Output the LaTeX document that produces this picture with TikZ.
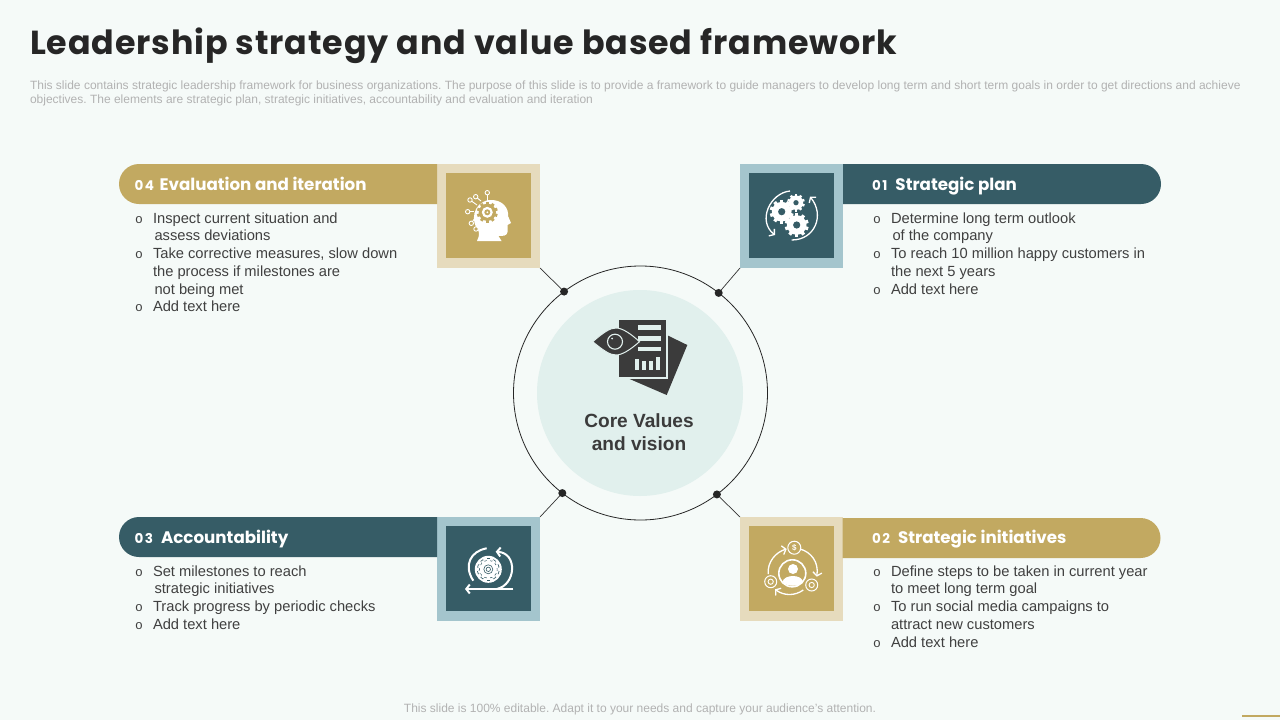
\documentclass[tikz,border=0pt]{standalone}
\usepackage{xcolor}
\usepackage{fontspec}
\setmainfont{Liberation Sans}
\newfontfamily\headfont{Poppins}
\newfontfamily\titlefont{Poppins}[LetterSpace=2.7]
\newfontfamily\markfont{Liberation Mono}
\usetikzlibrary{shapes.misc,arrows.meta}
\definecolor{pagebg}{HTML}{F5FAF8}
\definecolor{tanbar}{HTML}{C2A961}
\definecolor{tanpale}{HTML}{E6DBBD}
\definecolor{tealbar}{HTML}{365C66}
\definecolor{tealpale}{HTML}{A4C5CD}
\definecolor{discfill}{HTML}{E1F0ED}
\definecolor{inkdark}{HTML}{3B3B3B}
\definecolor{bodyink}{HTML}{404040}
\definecolor{noteink}{HTML}{B2B2B2}
\newcommand{\bul}{\strut\llap{{\markfont\fontsize{13}{13}\selectfont o}\hspace{10pt}}}
\newcommand{\numlabel}[2]{{\fontsize{13.5}{20}\selectfont #1\hspace{1.6pt}#2}\hspace{8pt}}
\newcommand{\cogwheel}[5]{%
    \foreach \a in {0,36,...,324} {
        \fill[#4, rotate around={\a:(#1,#2)}] (#1-#3*.14,#2-#3) rectangle (#1+#3*.14,#2-#3*.6);
    }
    \fill[#4] (#1,#2) circle (#3*.82);
    \fill[#5] (#1,#2) circle (#3*.3);
}
\begin{document}
\begin{tikzpicture}[x=1pt,y=-1pt, every node/.style={inner sep=0pt, outer sep=0pt},%
        headbar/.style={rounded rectangle, minimum width=318pt, minimum height=40pt},%
        headtext/.style={anchor=base west, text=white, font=\headfont\fontsize{16.7}{20}\selectfont\bfseries},%
        bodylist/.style={anchor=north west, align=left, text=bodyink, font=\fontsize{14.7}{17.7}\selectfont},%
        outerbox/.style={minimum width=103pt, minimum height=104pt},%
        innerbox/.style={minimum width=85pt, minimum height=85pt},%
        joint/.style={circle, fill=black!85, minimum size=8pt},%
        link/.style={draw=black!80, line width=.7pt},%
        iconarc/.style={draw=white, line width=1.3pt},%
        iconarrow/.style={iconarc, -{Straight Barb[length=3.5pt,width=9pt]}}]
        \fill[pagebg] (0,0) rectangle (1280,720);
        \useasboundingbox (0,0) rectangle (1280,720);

        \node[anchor=west, text=black!85, font=\titlefont\fontsize{33.3}{40}\selectfont\bfseries] (title) at (30,45.5) {Leadership strategy and value based framework};
        \node[anchor=north west, align=left, text=noteink, font=\frenchspacing\fontsize{12}{14}\selectfont] (note) at (30,81) {This slide contains strategic leadership framework for business organizations. The purpose of this slide is to provide a framework to guide managers to develop long term and short term goals in order to  get directions and achieve\\objectives. The elements are strategic plan, strategic initiatives, accountability and evaluation and iteration};
        \node[text=noteink, font=\frenchspacing\fontsize{12}{14}\selectfont] (foot) at (640,709) {This slide is 100\% editable. Adapt it to your needs and capture your audience's attention.};
        \coordinate (rulestart) at (1242,716);
        \coordinate (ruleend) at (1280,716);
        \draw[tanbar, line width=1.5pt] (rulestart) -- (ruleend);

        % centre
        \node[circle, draw=black!85, line width=.8pt, fill=pagebg, minimum size=254pt] (ring) at (640.5,393) {};
        \node[circle, fill=discfill, minimum size=206pt] (disc) at (640,393) {};
        \node[align=center, text=inkdark, font=\fontsize{19.1}{23}\selectfont\bfseries] (core) at (639,432) {Core Values\\and vision};
        \node[joint] (joint4) at (ring.127.5) {};
        \node[joint] (joint1) at (ring.52.5) {};
        \node[joint] (joint3) at (ring.232.5) {};
        \node[joint] (joint2) at (ring.307.5) {};

        % boxes
        \node[outerbox, fill=tanpale] (box4) at (488.5,216) {};
        \node[innerbox, fill=tanbar] (tile4) at ([yshift=.7pt]box4) {};
        \node[outerbox, fill=tealpale] (box1) at (791.5,216) {};
        \node[innerbox, fill=tealbar] (tile1) at ([yshift=.7pt]box1) {};
        \node[outerbox, fill=tealpale] (box3) at (488.5,569) {};
        \node[innerbox, fill=tealbar] (tile3) at ([yshift=.5pt]box3) {};
        \node[outerbox, fill=tanpale] (box2) at (791.5,569) {};
        \node[innerbox, fill=tanbar] (tile2) at ([yshift=.5pt]box2) {};
        \draw[link] (joint4) -- (box4.south east);
        \draw[link] (joint1) -- (box1.south west);
        \draw[link] (joint3) -- (box3.north east);
        \draw[link] (joint2) -- (box2.north west);

        % bars
        \node[headbar, fill=tanbar, rounded rectangle east arc=none] (bar4) at (278,184) {};
        \node[headbar, fill=tealbar, rounded rectangle west arc=none] (bar1) at (1002,184) {};
        \node[headbar, fill=tealbar, rounded rectangle east arc=none] (bar3) at (278,537) {};
        \node[headbar, fill=tanbar, rounded rectangle west arc=none] (bar2) at (1001.5,538) {};
        \node[headtext] (head4) at (134.5,190.5) {\numlabel{0}{4}\hspace{-2.5pt}Evaluation and iteration};
        \node[headtext] (head1) at (872,190.5) {\numlabel{0}{1}Strategic plan};
        \node[headtext] (head3) at (134.5,543.7) {\numlabel{0}{3}Accountability};
        \node[headtext] (head2) at (872,543.7) {\numlabel{0}{2}Strategic initiatives};

        % lists
        \node[bodylist] (list4) at (153,210.9) {\bul Inspect current situation and\\\hspace*{1.5pt}assess deviations\\\bul Take corrective measures, slow down\\the process if milestones are\\\hspace*{1.5pt}not being met\\\bul Add text here};
        \node[bodylist] (list1) at (891,210.9) {\bul Determine long term outlook\\\hspace*{1.5pt}of the company\\\bul To reach 10 million happy customers in\\the next 5 years\\\bul Add text here};
        \node[bodylist] (list3) at (153,563.9) {\bul Set milestones to reach\\\hspace*{1.5pt}strategic initiatives\\\bul Track progress by periodic checks\\\bul Add text here};
        \node[bodylist] (list2) at (891,563.9) {\bul Define steps to be taken in current year\\to meet long term goal\\\bul To run social media campaigns to\\attract new customers\\\bul Add text here};

        % centre icon
        \fill[inkdark] (666.7,335) -- (687.3,345) -- (666.7,395) -- (627.3,378) -- cycle;
        \fill[discfill] (619,320) rectangle (667.5,378.5);
        \fill[inkdark] (619,320) rectangle (665.7,376.5);
        \fill[discfill] (638,325) rectangle (660.7,330);
        \fill[discfill] (638,336) rectangle (660.7,340.7);
        \fill[discfill] (638,346.7) rectangle (660.7,350.7);
        \foreach \bx/\btop in {635/359.3,641.7/361,649/361,656/356.7} {
            \fill[discfill] (\bx,\btop) rectangle (\bx+4,370);
        }
        \fill[inkdark, draw=discfill, line width=1pt] (592.7,341.7) .. controls (604,332) and (610,328) .. (616,328) .. controls (622,328) and (630,333) .. (639.5,341.7) .. controls (630,350) and (622,355) .. (616,355) .. controls (610,355) and (604,351) .. cycle;
        \draw[discfill, line width=1.1pt] (615,341.7) circle (7.5);
        \fill[discfill] (612,338.5) circle (1);

        % head icon
        \fill[white] (477,241) .. controls (480,235) and (479,232) .. (478,230) .. controls (471,222) and (472,203) .. (489,200) .. controls (503,199) and (509,209) .. (508,216) -- (511,223) -- (507.5,225) -- (507.5,232) .. controls (507,236) and (503,236) .. (498.5,236) -- (501.5,241) -- cycle;
        \cogwheel{487.3}{212.3}{10.5}{tanbar}{white}
        \fill[white] (487.3,212.3) circle (5.5);
        \fill[tanbar] (487.3,212.3) circle (3);
        \fill[white] (487.3,212.3) circle (1);
        \foreach \px/\py/\qx/\qy in {487.3/192.7/487.3/201,475.7/196.7/481/201,470/200/477/205,467.7/211.7/474/211.7,471.3/223.3/475/218,476/229/478/226} {
            \draw[white, line width=.9pt] (\qx,\qy) -- (\px,\py);
            \draw[white, line width=.9pt, fill=tanbar] (\px,\py) circle (2.2);
        }

        % gears icon
        \cogwheel{781.7}{211.7}{12}{white}{tealbar}
        \cogwheel{796}{202.7}{8.8}{white}{tealbar}
        \cogwheel{796.7}{225}{12}{white}{tealbar}
        \draw[iconarrow] (790,191) .. controls (770,193) and (757,221) .. (775,235);
        \draw[iconarrow] (791.7,240) .. controls (815,240) and (825,215) .. (810,196.7);

        % cycle icon
        \draw[iconarc, line width=2pt] (473.3,580.7) .. controls (463,565) and (471,551) .. (486.7,548.3);
        \draw[iconarrow, line width=2pt] (496.7,589) .. controls (516,585) and (518,553) .. (495.7,551.7);
        \draw[iconarrow, line width=2pt] (513.3,589) -- (465,589);
        \fill[white] (488.3,569.3) circle (13.5);
        \cogwheel{488.3}{569.3}{11.2}{tealbar}{tealbar}
        \cogwheel{488.3}{569.3}{10.4}{white}{white}
        \draw[tealbar, line width=.6pt] (488.3,569.3) circle (4.5);
        \draw[tealbar, line width=.6pt] (488.3,569.3) circle (2.2);

        % people icon
        \draw[iconarrow] (768.3,574) .. controls (767,562) and (776,552) .. (786.7,549);
        \draw[iconarrow] (800,549) .. controls (811,552) and (819,562) .. (816.7,576.7);
        \draw[iconarrow] (803.3,590) .. controls (795,596) and (784,596) .. (775,589.3);
        \draw[white, line width=1.6pt] (792.3,573.3) circle (13.5);
        \fill[white] (793,569) circle (5);
        \fill[white] (782.5,582) .. controls (784,574) and (802,574) .. (803,582) .. controls (798,587) and (788,587) .. (782.5,582) -- cycle;
        \node[circle, draw=white, line width=1pt, minimum size=13pt, text=white, font=\fontsize{8}{8}\selectfont\bfseries] (money) at (794.3,547.7) {\$};
        \node[circle, draw=white, line width=1pt, minimum size=12pt] (orbitb) at (811.7,585) {};
        \node[circle, draw=white, line width=1pt, minimum size=12pt] (orbitc) at (770.7,581.7) {};
        \draw[white, line width=.9pt] (orbitb) circle (2.6);
        \draw[white, line width=.9pt] (orbitc) circle (2.6);
    \end{tikzpicture}
\end{document}
